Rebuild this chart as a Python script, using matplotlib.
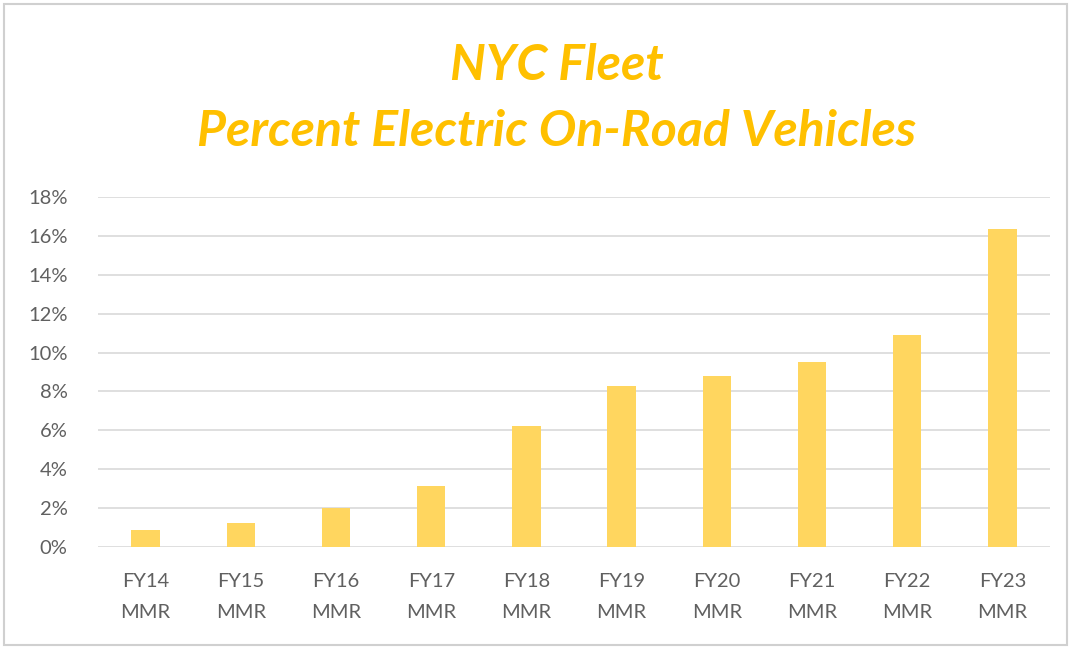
import matplotlib.pyplot as plt
from matplotlib.patches import Rectangle

# Data
categories = ["FY14\nMMR", "FY15\nMMR", "FY16\nMMR", "FY17\nMMR", "FY18\nMMR",
              "FY19\nMMR", "FY20\nMMR", "FY21\nMMR", "FY22\nMMR", "FY23\nMMR"]
pct_electric = [0.85, 1.25, 2.0, 3.15, 6.2, 8.3, 8.8, 9.5, 10.9, 16.35]
y_ticks = [0, 2, 4, 6, 8, 10, 12, 14, 16, 18]
title_lines = ["NYC Fleet", "Percent Electric On-Road Vehicles"]

gold = "#FFC000"
bar_color = "#FFD65F"
grid_color = "#D9D9D9"
text_color = "#606060"

plt.rcParams['font.family'] = ['Lato', 'DejaVu Sans']

fig = plt.figure(figsize=(10.71, 6.49), dpi=100)
ax = fig.add_axes([98 / 1071, 1 - 547 / 649, 952 / 1071, 350 / 649])

x = range(len(categories))
ax.bar(x, pct_electric, width=0.3, color=bar_color, zorder=3)

ax.set_xlim(-0.5, len(categories) - 0.5)
ax.set_ylim(0, 18)
ax.set_yticks(y_ticks)
ax.set_yticklabels([f"{v}%" for v in y_ticks])
ax.set_xticks(list(x))
ax.set_xticklabels(categories, linespacing=2.0)

ax.grid(axis='y', color=grid_color, linewidth=1.2, zorder=0)
for s in ax.spines.values():
    s.set_visible(False)
ax.tick_params(axis='both', length=0, colors=text_color, labelsize=14.5)
ax.tick_params(axis='y', pad=22)
ax.tick_params(axis='x', pad=19)

fig.text(0.52, 1 - 66 / 649, title_lines[0], ha='center', va='center',
         fontsize=36, fontweight='bold', fontstyle='italic', color=gold)
fig.text(0.52, 1 - 131 / 649, title_lines[1], ha='center', va='center',
         fontsize=36, fontweight='bold', fontstyle='italic', color=gold)

# light frame around the chart
fig.patches.append(Rectangle((4 / 1071, 4 / 649), 1 - 8 / 1071, 1 - 8 / 649,
                             transform=fig.transFigure, fill=False,
                             edgecolor="#D0D0D0", linewidth=1.5))

fig.savefig("out.png", dpi=100)
